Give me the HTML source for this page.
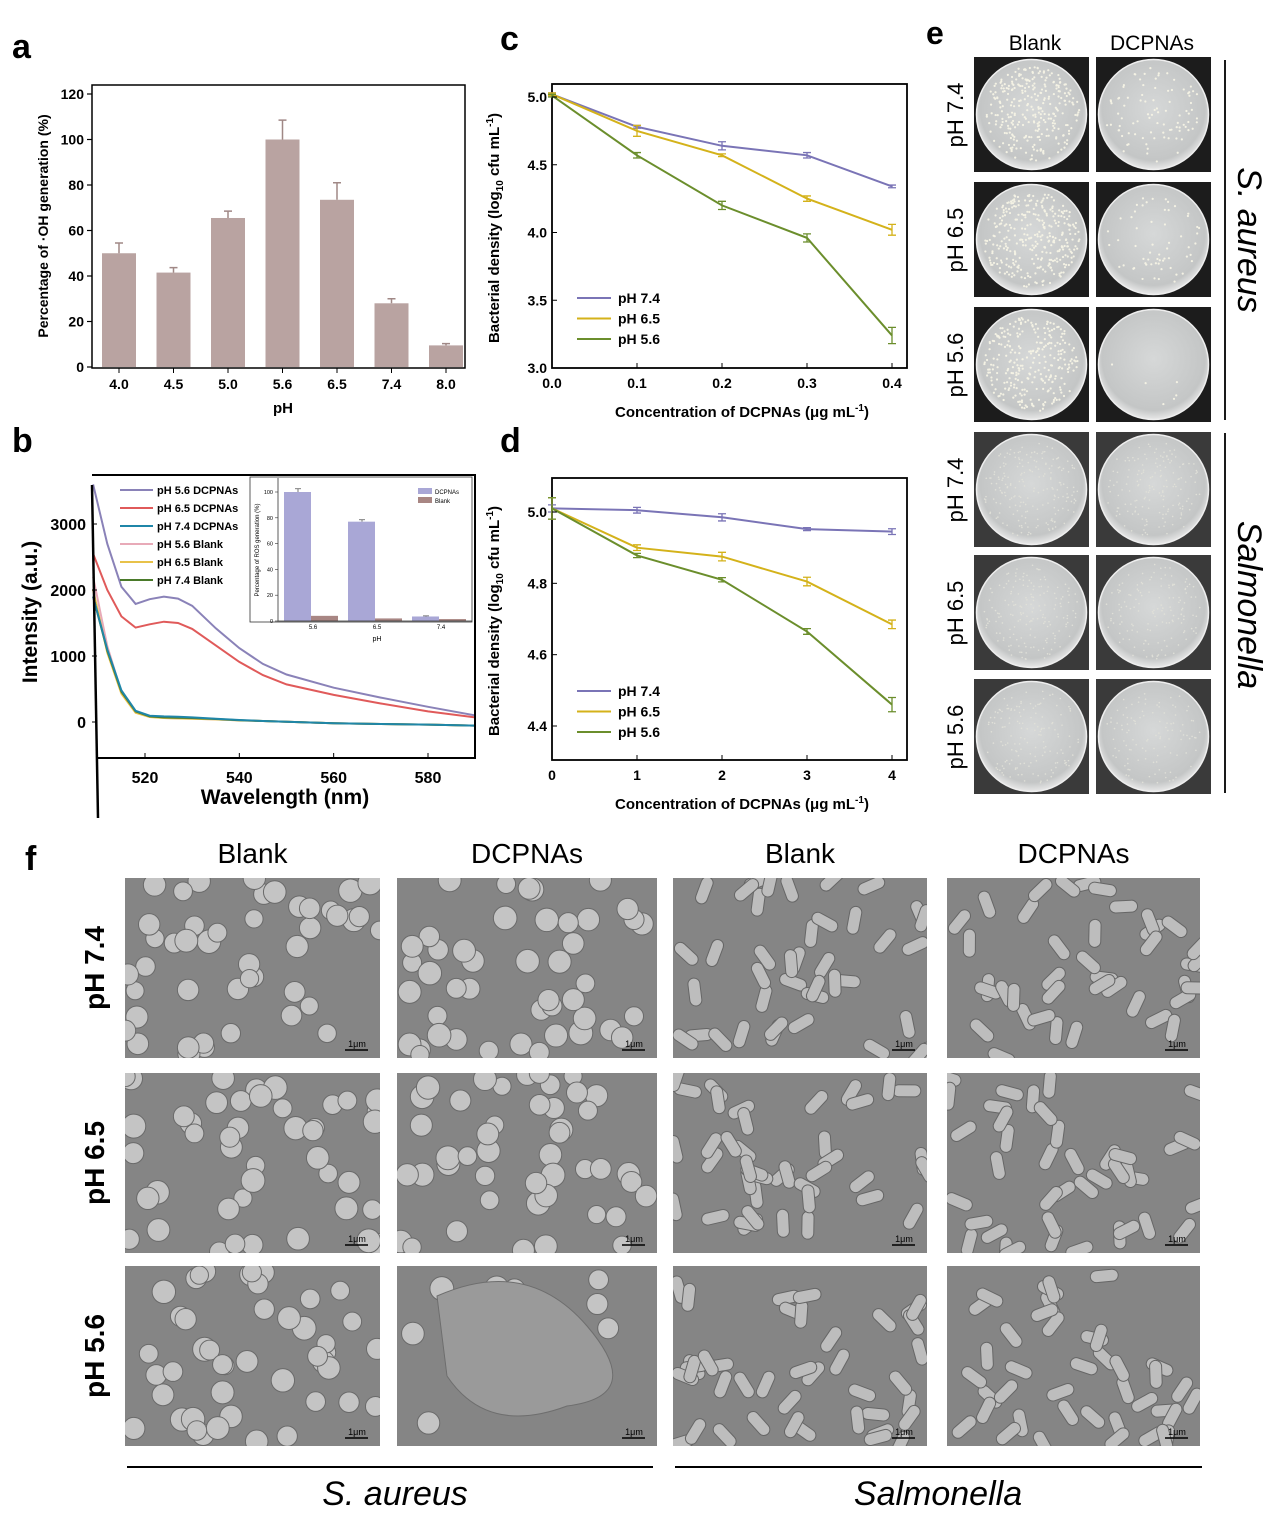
<!DOCTYPE html>
<html><head><meta charset="utf-8">
<style>
html,body{margin:0;padding:0;background:#fff;}
svg{display:block;font-family:"Liberation Sans",Arial,sans-serif;}
.b{font-weight:bold;}
</style></head>
<body>
<svg id="fig" width="1269" height="1523" viewBox="0 0 1269 1523">
<defs>
<radialGradient id="plateG" cx="50%" cy="45%" r="55%"><stop offset="0" stop-color="#d6d8d8"/><stop offset="0.85" stop-color="#c4c6c6"/><stop offset="1" stop-color="#e8e8e8"/></radialGradient>
</defs>
<g id="gA"></g>
<g id="gB"></g>
<g id="gC"></g>
<g id="gD"></g>
<g id="gE"></g>
<g id="gF"></g>
</svg>
<script>
// ---- Panel a data
const aCats=["4.0","4.5","5.0","5.6","6.5","7.4","8.0"];
const aVals=[50,41.5,65.5,100,73.5,28,9.5];
const aErrs=[4.5,2.2,3,8.5,7.5,2,0.8];
const aTicks=[0,20,40,60,80,100,120];
// ---- Panel b data
const bWl=[509,512,515,518,521,524,527,530,535,540,545,550,560,570,580,590];
const b56D=[3600,2700,2050,1790,1860,1900,1870,1760,1420,1120,880,720,520,370,230,100];
const b65D=[2550,2000,1600,1430,1480,1520,1500,1410,1160,910,710,570,410,280,160,70];
const b74D=[1900,1100,480,170,95,85,80,70,50,30,15,5,-20,-30,-40,-55];
const b56B=[2200,1150,450,150,80,60,55,50,40,25,15,5,-20,-30,-40,-55];
const b65B=[2000,1050,430,140,75,60,55,50,40,25,15,5,-20,-30,-40,-55];
const b74B=[1900,1080,460,160,85,70,65,60,45,28,15,5,-20,-30,-40,-55];
const bTicksY=[0,1000,2000,3000];
const bTicksX=[520,540,560,580];
const insetCats=["5.6","6.5","7.4"];
const insetD=[100,77,3.5];
const insetB=[4,2,1.5];
const insetDErr=[2.5,1.5,0.5];
const insetTicks=[0,20,40,60,80,100];
// ---- Panel c data
const cX=[0,0.1,0.2,0.3,0.4];
const c74=[5.02,4.78,4.64,4.57,4.34];
const c65=[5.02,4.75,4.57,4.25,4.02];
const c56=[5.01,4.57,4.20,3.96,3.24];
const c74e=[0.01,0.01,0.03,0.02,0.01];
const c65e=[0.01,0.04,0.01,0.02,0.04];
const c56e=[0.01,0.02,0.03,0.03,0.06];
const cTicksX=[0,0.1,0.2,0.3,0.4];
const cTicksY=[3.0,3.5,4.0,4.5,5.0];
// ---- Panel d data
const dX=[0,1,2,3,4];
const d74=[5.01,5.005,4.985,4.952,4.945];
const d65=[5.01,4.90,4.875,4.805,4.685];
const d56=[5.01,4.878,4.81,4.665,4.46];
const d74e=[0.01,0.008,0.01,0.004,0.008];
const d65e=[0.03,0.008,0.012,0.012,0.012];
const d56e=[0.03,0.006,0.006,0.008,0.02];
const dTicksX=[0,1,2,3,4];
const dTicksY=[4.4,4.6,4.8,5.0];

const NS="http://www.w3.org/2000/svg";
function mk(parent,tag,attrs,text){const e=document.createElementNS(NS,tag);for(const k in attrs)e.setAttribute(k,attrs[k]);if(text!==undefined)e.textContent=text;parent.appendChild(e);return e;}
function lin(d0,d1,r0,r1){return v=>r0+(v-d0)*(r1-r0)/(d1-d0);}

// ===== Panel a
(function(){
const g=document.getElementById('gA');
const X0=92,X1=465,Y0=85,Y1=368;
const y=lin(0,120,367,94);
const x=i=>119+i*54.5;
let t=mk(g,'text',{x:12,y:58,'font-size':34,class:'b'},'a');

aVals.forEach((v,i)=>{
 const r=mk(g,'rect',{x:x(i)-17,y:y(v),width:34,height:367-y(v),fill:'#b9a3a1'});
 
 const ey=y(v+aErrs[i]);
 mk(g,'path',{d:`M${x(i)} ${y(v)}V${ey}M${x(i)-4} ${ey}H${x(i)+4}`,stroke:'#a08886','stroke-width':1.5,fill:'none'});
});
mk(g,'rect',{x:X0,y:Y0,width:X1-X0,height:Y1-Y0,fill:'none',stroke:'#000','stroke-width':1.5});
aTicks.forEach(v=>{mk(g,'line',{x1:X0-5,x2:X0,y1:y(v),y2:y(v),stroke:'#000','stroke-width':1.2});
 const l=mk(g,'text',{x:X0-8,y:y(v)+5,'font-size':14,class:'b','text-anchor':'end'},v);
 });
aCats.forEach((c,i)=>{mk(g,'line',{x1:x(i),x2:x(i),y1:Y1,y2:Y1+5,stroke:'#000'});
 const l=mk(g,'text',{x:x(i),y:Y1+21,'font-size':14,class:'b','text-anchor':'middle'},c);
 });
t=mk(g,'text',{x:283,y:413,'font-size':15,class:'b','text-anchor':'middle'},'pH');

t=mk(g,'text',{x:0,y:0,'font-size':14,class:'b','text-anchor':'middle',transform:'translate(48,226) rotate(-90)'},'Percentage of ·OH generation (%)');

})();

// ===== Panel b
(function(){
const g=document.getElementById('gB');
const X0=92,X1=475,Y0=475,Y1=758;
const x=lin(520,580,145,428), y=lin(0,3000,722,524);
let t=mk(g,'text',{x:12,y:452,'font-size':34,class:'b'},'b');

const series=[[b56B,'#e8aab8','ph-5.6-blank'],[b65B,'#e8c24a','ph-6.5-blank'],[b74B,'#4a7a2a','ph-7.4-blank'],[b74D,'#1f86a8','ph-7.4-dcpnas'],[b65D,'#e05a5a','ph-6.5-dcpnas'],[b56D,'#8a82b8','ph-5.6-dcpnas']];
const clip=mk(g,'clipPath',{id:'clipB'});mk(clip,'rect',{x:X0,y:Y0,width:X1-X0,height:Y1-Y0});
series.forEach(s=>{
 const d=bWl.map((w,i)=>(i?'L':'M')+x(w).toFixed(1)+' '+y(s[0][i]).toFixed(1)).join('');
 const p=mk(g,'path',{d:d,stroke:s[1],'stroke-width':2,fill:'none','clip-path':'url(#clipB)'});
 
});
mk(g,'path',{d:`M${X0} ${Y0+10}L98 ${Y1+60}`,stroke:'#000','stroke-width':2.5,fill:'none'});
mk(g,'path',{d:`M${X0} ${Y0}H${X1}V${Y1}H${X0+5}`,stroke:'#000','stroke-width':2,fill:'none'});
bTicksY.forEach(v=>{mk(g,'line',{x1:X0,x2:X0+5,y1:y(v),y2:y(v),stroke:'#000'});
 const l=mk(g,'text',{x:X0-6,y:y(v)+6,'font-size':16,class:'b','text-anchor':'end'},v);
 });
bTicksX.forEach(v=>{mk(g,'line',{x1:x(v),x2:x(v),y1:Y1,y2:Y1-5,stroke:'#000'});
 const l=mk(g,'text',{x:x(v),y:Y1+25,'font-size':16,class:'b','text-anchor':'middle'},v);
 });
t=mk(g,'text',{x:285,y:804,'font-size':21,class:'b','text-anchor':'middle'},'Wavelength (nm)');

t=mk(g,'text',{x:0,y:0,'font-size':21,class:'b','text-anchor':'middle',transform:'translate(37,612) rotate(-90)'},'Intensity (a.u.)');

const legNames=['pH 5.6 DCPNAs','pH 6.5 DCPNAs','pH 7.4 DCPNAs','pH 5.6 Blank','pH 6.5 Blank','pH 7.4 Blank'];
const legCols=['#8a82b8','#e05a5a','#1f86a8','#e8aab8','#e8c24a','#4a7a2a'];
legNames.forEach((n,i)=>{const yy=490+i*18;
 const lg=mk(g,'g',{});
 mk(lg,'line',{x1:120,x2:153,y1:yy,y2:yy,stroke:legCols[i],'stroke-width':2});
 mk(lg,'text',{x:157,y:yy+4,'font-size':11,class:'b'},n);});
// inset
const iy=lin(0,100,621,492), ix=i=>311+i*64;
mk(g,'rect',{x:250,y:477,width:222,height:145,fill:'#fff',stroke:'#333','stroke-width':0.8});
insetCats.forEach((c,i)=>{
 let r=mk(g,'rect',{x:ix(i)-27,y:iy(insetD[i]),width:27,height:621-iy(insetD[i]),fill:'#a9a7d6'});
 
 r=mk(g,'rect',{x:ix(i),y:iy(insetB[i]),width:27,height:621-iy(insetB[i]),fill:'#a88683'});
 
 const ey=iy(insetD[i]+insetDErr[i]);
 mk(g,'path',{d:`M${ix(i)-13} ${iy(insetD[i])}V${ey}M${ix(i)-16} ${ey}H${ix(i)-10}`,stroke:'#555','stroke-width':0.8,fill:'none'});
 mk(g,'text',{x:ix(i)+2,y:629,'font-size':6,'text-anchor':'middle'},c);
});
mk(g,'path',{d:'M278 478V621H472',stroke:'#333','stroke-width':0.8,fill:'none'});
insetTicks.forEach(v=>{mk(g,'line',{x1:275,x2:278,y1:iy(v),y2:iy(v),stroke:'#333','stroke-width':0.6});
 mk(g,'text',{x:273,y:iy(v)+2,'font-size':5.5,'text-anchor':'end'},v);});
mk(g,'text',{x:377,y:641,'font-size':7,'text-anchor':'middle'},'pH');
mk(g,'text',{x:0,y:0,'font-size':6,'text-anchor':'middle',transform:'translate(259,550) rotate(-90)'},'Percentage of ROS generation (%)');
mk(g,'rect',{x:418,y:488,width:14,height:6,fill:'#a9a7d6'});
mk(g,'text',{x:435,y:494,'font-size':6},'DCPNAs');
mk(g,'rect',{x:418,y:497,width:14,height:6,fill:'#a88683'});
mk(g,'text',{x:435,y:503,'font-size':6},'Blank');
})();

// ===== line panels c, d
function linePanel(gid,letter,ly,X0,X1,Y0,Y1,xs,xr,ys,yr,xT,yT,xFmt,yFmt,sers,legY){
const g=document.getElementById(gid);
const x=lin(xs[0],xs[1],xr[0],xr[1]), y=lin(ys[0],ys[1],yr[0],yr[1]);
let t=mk(g,'text',{x:500,y:ly,'font-size':34,class:'b'},letter);

mk(g,'rect',{x:X0,y:Y0,width:X1-X0,height:Y1-Y0,fill:'none',stroke:'#000','stroke-width':1.8});
sers.forEach(s=>{
 const d=s.x.map((v,i)=>(i?'L':'M')+x(v).toFixed(1)+' '+y(s.y[i]).toFixed(1)).join('');
 const p=mk(g,'path',{d:d,stroke:s.c,'stroke-width':2,fill:'none'});
 
 s.x.forEach((v,i)=>{const a=y(s.y[i]+s.e[i]),b=y(s.y[i]-s.e[i]),xx=x(v);
  mk(g,'path',{d:`M${xx} ${a}V${b}M${xx-4} ${a}H${xx+4}M${xx-4} ${b}H${xx+4}`,stroke:s.c,'stroke-width':1.3,fill:'none'});});
});
xT.forEach(v=>{mk(g,'line',{x1:x(v),x2:x(v),y1:Y1,y2:Y1-5,stroke:'#000'});
 const l=mk(g,'text',{x:x(v),y:Y1+20,'font-size':14,class:'b','text-anchor':'middle'},xFmt(v));
 });
yT.forEach(v=>{mk(g,'line',{x1:X0,x2:X0+5,y1:y(v),y2:y(v),stroke:'#000'});
 const l=mk(g,'text',{x:X0-5,y:y(v)+5,'font-size':14,class:'b','text-anchor':'end'},yFmt(v));
 });
t=mk(g,'text',{x:742,y:Y1+49,'font-size':15,class:'b','text-anchor':'middle'});
t.innerHTML='Concentration of DCPNAs (μg mL<tspan dy="-6" font-size="10">-1</tspan><tspan dy="6">)</tspan>';

t=mk(g,'text',{x:0,y:0,'font-size':15,class:'b','text-anchor':'middle',transform:`translate(499,${(Y0+Y1)/2+2}) rotate(-90)`});
t.innerHTML='Bacterial density (log<tspan dy="4" font-size="10">10</tspan><tspan dy="-4"> cfu mL</tspan><tspan dy="-6" font-size="10">-1</tspan><tspan dy="6">)</tspan>';

sers.forEach((s,i)=>{const yy=legY+i*20.5;
 const lg=mk(g,'g',{});
 mk(lg,'line',{x1:577,x2:611,y1:yy,y2:yy,stroke:s.c,'stroke-width':2});
 mk(lg,'text',{x:618,y:yy+5,'font-size':14,class:'b'},s.label);});
}
linePanel('gC','c',50,552,907,84,368,[3,5].length?[0,0.1]:0,[552,637],[3.0,5.0],[368,97],cTicksX,cTicksY,v=>v.toFixed(1),v=>v.toFixed(1),
 [{x:cX,y:c74,e:c74e,c:'#7a74b6',n:'ph-7.4',label:'pH 7.4'},{x:cX,y:c65,e:c65e,c:'#d4b21a',n:'ph-6.5',label:'pH 6.5'},{x:cX,y:c56,e:c56e,c:'#6b8e2c',n:'ph-5.6',label:'pH 5.6'}],298);
linePanel('gD','d',452,552,907,478,760,[0,4],[552,892],[4.4,5.0],[726,512],dTicksX,dTicksY,v=>v,v=>v.toFixed(1),
 [{x:dX,y:d74,e:d74e,c:'#7a74b6',n:'ph-7.4',label:'pH 7.4'},{x:dX,y:d65,e:d65e,c:'#d4b21a',n:'ph-6.5',label:'pH 6.5'},{x:dX,y:d56,e:d56e,c:'#6b8e2c',n:'ph-5.6',label:'pH 5.6'}],691);

// simple deterministic generator for decorative texture (not chart data)
let seed=7;function rnd(){seed=(seed*16807)%2147483647;return seed/2147483647;}

// ===== Panel e
(function(){
const g=document.getElementById('gE');
let t=mk(g,'text',{x:926,y:44,'font-size':32,class:'b'},'e');

[['Blank',1035],['DCPNAs',1152]].forEach(c=>{const l=mk(g,'text',{x:c[1],y:50,'font-size':21,'text-anchor':'middle'},c[0]);
 });
const cols=[974,1096], rows=[57,182,307,432,555,679], phs=['pH 7.4','pH 6.5','pH 5.6','pH 7.4','pH 6.5','pH 5.6'];
const counts=[[300,90],[320,60],[280,6],[200,160],[170,140],[150,110]];
rows.forEach((ry,ri)=>{
 const l=mk(g,'text',{x:0,y:0,'font-size':22,'text-anchor':'middle',transform:`translate(963,${ry+58}) rotate(-90)`},phs[ri]);
 
 cols.forEach((cx,ci)=>{
  const pg=mk(g,'g',{});
  mk(pg,'rect',{x:cx,y:ry,width:115,height:115,fill:ri<3?'#1c1c1c':'#3a3a3a'});
  mk(pg,'circle',{cx:cx+57.5,cy:ry+57.5,r:55,fill:'url(#plateG)',stroke:'#eee','stroke-width':1.5});
  const n=counts[ri][ci];
  for(let k=0;k<n;k++){const a=rnd()*6.283,r=Math.sqrt(rnd())*48;
   mk(pg,'circle',{cx:cx+57.5+r*Math.cos(a),cy:ry+57.5+r*Math.sin(a),r:ri<3?1.1:0.8,fill:ri<3?'#f4f2e4':'#e0e0d8'});}
 });
});
mk(g,'line',{x1:1225,x2:1225,y1:60,y2:420,stroke:'#000','stroke-width':1.8});
mk(g,'line',{x1:1225,x2:1225,y1:433,y2:793,stroke:'#000','stroke-width':1.8});
t=mk(g,'text',{x:0,y:0,'font-size':34,'font-style':'italic','text-anchor':'middle',transform:'translate(1238,240) rotate(90)'},'S. aureus');

t=mk(g,'text',{x:0,y:0,'font-size':34,'font-style':'italic','text-anchor':'middle',transform:'translate(1238,605) rotate(90)'},'Salmonella');

})();

// ===== Panel f
(function(){
const g=document.getElementById('gF');
let t=mk(g,'text',{x:25,y:870,'font-size':34,class:'b'},'f');

const cols=[[125,255],[397,260],[673,254],[947,253]], rows=[[878,180],[1073,180],[1266,180]];
['Blank','DCPNAs','Blank','DCPNAs'].forEach((h,i)=>{const l=mk(g,'text',{x:cols[i][0]+cols[i][1]/2,y:863,'font-size':28,'text-anchor':'middle'},h);
 });
['pH 7.4','pH 6.5','pH 5.6'].forEach((p,i)=>{const l=mk(g,'text',{x:0,y:0,'font-size':28,class:'b','text-anchor':'middle',transform:`translate(104,${rows[i][0]+90}) rotate(-90)`},p);
 });
rows.forEach((r,ri)=>cols.forEach((c,ci)=>{
 const pg=mk(g,'g',{});
 mk(pg,'rect',{x:c[0],y:r[0],width:c[1],height:r[1],fill:'#858585'});
 const cp=mk(pg,'clipPath',{id:'cp'+ri+ci});mk(cp,'rect',{x:c[0],y:r[0],width:c[1],height:r[1]});
 const inner=mk(pg,'g',{'clip-path':`url(#cp${ri}${ci})`});
 const n=ci<2?(ci==1&&ri==2?10:45):40;
 for(let k=0;k<n;k++){const px=c[0]+rnd()*c[1],py=r[0]+rnd()*r[1];
  if(ci<2){mk(inner,'circle',{cx:px,cy:py,r:9+rnd()*3,fill:'#c4c4c4',stroke:'#6a6a6a','stroke-width':1});}
  else{const a=rnd()*180;mk(inner,'rect',{x:px-14,y:py-6,width:28,height:12,rx:6,fill:'#bdbdbd',stroke:'#666','stroke-width':1,transform:`rotate(${a} ${px} ${py})`});}}
 if(ci==1&&ri==2){mk(inner,'path',{d:`M${c[0]+40} ${r[0]+30}Q${c[0]+130} ${r[0]-10} ${c[0]+190} ${r[0]+60}T${c[0]+170} ${r[0]+140}Q${c[0]+90} ${r[0]+170} ${c[0]+50} ${r[0]+110}Z`,fill:'#9a9a9a',stroke:'#6e6e6e'});}
 mk(pg,'line',{x1:c[0]+c[1]-35,x2:c[0]+c[1]-12,y1:r[0]+r[1]-8,y2:r[0]+r[1]-8,stroke:'#000','stroke-width':1.5});
 mk(pg,'text',{x:c[0]+c[1]-23,y:r[0]+r[1]-11,'font-size':9,'text-anchor':'middle'},'1μm');
}));
mk(g,'line',{x1:127,x2:653,y1:1467,y2:1467,stroke:'#000','stroke-width':2});
mk(g,'line',{x1:675,x2:1202,y1:1467,y2:1467,stroke:'#000','stroke-width':2});
t=mk(g,'text',{x:395,y:1505,'font-size':34,'font-style':'italic','text-anchor':'middle'},'S. aureus');

t=mk(g,'text',{x:938,y:1505,'font-size':34,'font-style':'italic','text-anchor':'middle'},'Salmonella');

})();
</script>
</body></html>
